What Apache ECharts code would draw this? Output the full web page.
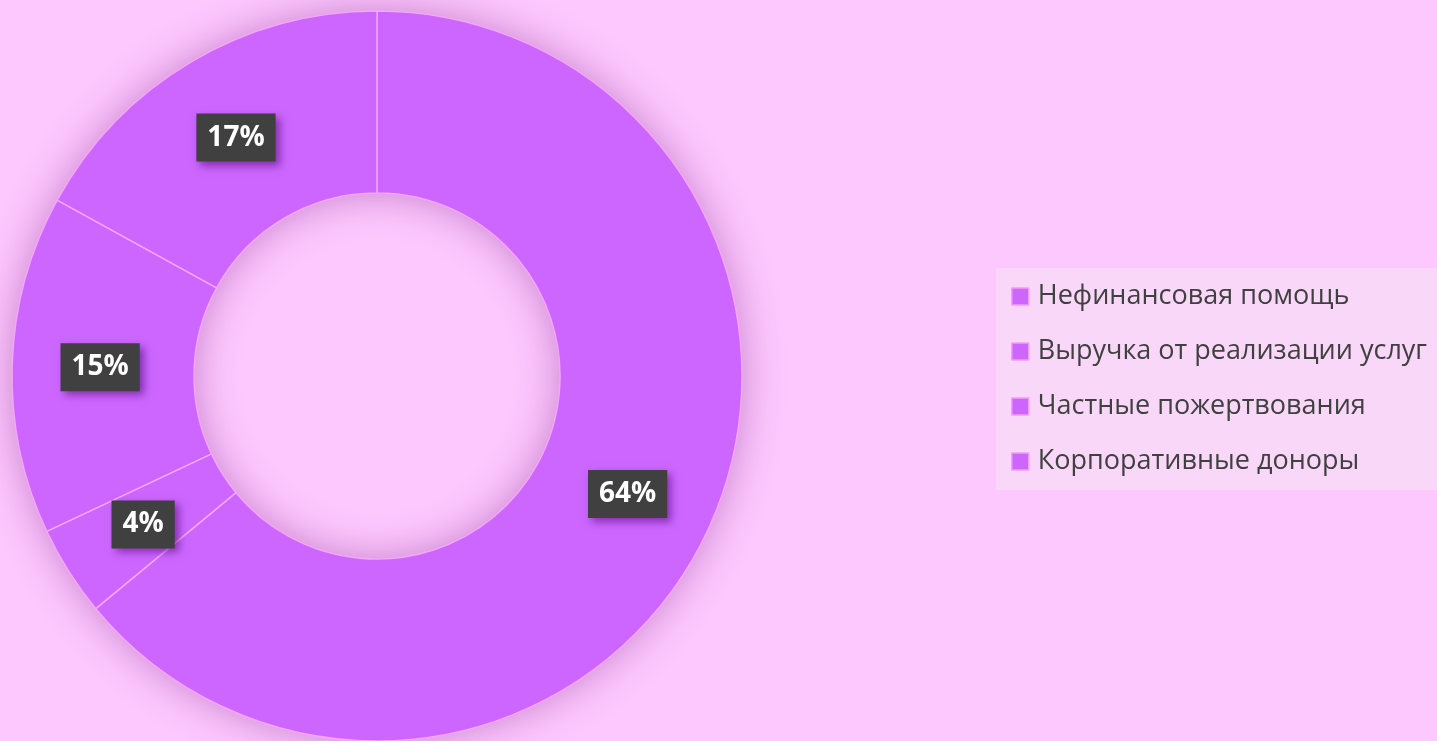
<!DOCTYPE html>
<html>
<head>
<meta charset="utf-8">
<script src="https://cdn.jsdelivr.net/npm/echarts@6/dist/echarts.min.js"></script>
<style>
html,body{margin:0;padding:0;background:#FCC8FE;}
#c{width:1437px;height:741px;}
</style>
</head>
<body>
<div id="c"></div>
<script>
const categories = ['Нефинансовая помощь', 'Выручка от реализации услуг', 'Частные пожертвования', 'Корпоративные доноры'];
const values = [64, 4, 15, 17];

const chart = echarts.init(document.getElementById('c'), null, {renderer: 'canvas'});
const fontFamily = '"Open Sans", "Noto Sans", sans-serif';
chart.setOption({
  backgroundColor: '#FCC8FE',
  animation: false,
  legend: {
    orient: 'vertical',
    right: 0,
    top: 268,
    backgroundColor: '#F9D7F8',
    padding: [15, 10, 15, 15],
    itemGap: 28,
    itemWidth: 17,
    itemHeight: 17,
    icon: 'rect',
    itemStyle: {borderColor: '#F49CF8', borderWidth: 1.5},
    textStyle: {fontFamily: fontFamily, fontSize: 27, color: '#404040', lineHeight: 27, padding: [0, 0, 0, 4]},
    data: categories
  },
  series: [
    {
      type: 'pie',
      silent: true,
      center: [377, 376],
      radius: [183, 365],
      startAngle: 90,
      z: 1,
      label: {show: false},
      labelLine: {show: false},
      itemStyle: {color: '#CC66FF', shadowBlur: 40, shadowColor: 'rgba(140,40,140,0.45)'},
      data: [{value: 1, name: '_ring'}],
      legendHoverLink: false
    },
    {
      type: 'pie',
      center: [377, 376],
      radius: [183, 365],
      startAngle: 90,
      clockwise: true,
      z: 2,
      itemStyle: {color: '#CC66FF', borderColor: '#F4A6F8', borderWidth: 1.5},
      label: {
        show: true,
        position: 'inside',
        formatter: '{d}%',
        fontFamily: fontFamily,
        fontSize: 28,
        fontWeight: 'bold',
        color: '#ffffff',
        backgroundColor: '#404040',
        padding: [11, 11, 9, 11],
        shadowBlur: 8,
        shadowOffsetX: 4,
        shadowOffsetY: 4,
        shadowColor: 'rgba(80,0,110,0.55)'
      },
      labelLine: {show: false},
      emphasis: {disabled: true},
      data: categories.map((n, i) => ({name: n, value: values[i]}))
    }
  ]
});
</script>
</body>
</html>
